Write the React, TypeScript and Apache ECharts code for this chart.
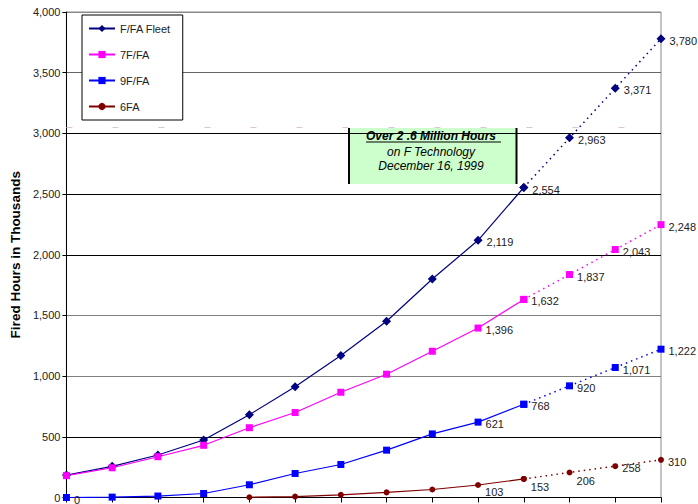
import React, { useEffect, useRef } from "react";
import * as echarts from "echarts";

const categories = ["1", "2", "3", "4", "5", "6", "7", "8", "9", "10", "11", "12", "13", "14"];
const fleet = [185, 257, 350, 474, 682, 913, 1170, 1452, 1800, 2119, 2554, 2963, 3371, 3780];
const f7 = [180, 245, 336, 430, 575, 700, 867, 1016, 1205, 1396, 1632, 1837, 2043, 2248];
const f9 = [0, 3, 12, 33, 105, 198, 272, 390, 524, 621, 768, 920, 1071, 1222];
const fa6: (number | null)[] = [null, null, null, null, 2, 8, 22, 42, 66, 103, 153, 206, 258, 310];
const yTicks = { min: 0, max: 4000, interval: 500 };
const splitIndex = 10; // solid up to this index, dotted afterwards
const labelFrom = 9;

const FONT = "Liberation Sans, Arial, sans-serif";

type SeriesDef = {
  name: string;
  values: (number | null)[];
  color: string;
  symbol: string;
  symbolSize: number;
  zeroLabel?: boolean;
  labelOffsets?: Record<number, [number, number]>;
};

const defs: SeriesDef[] = [
  { name: "F/FA Fleet", values: fleet, color: "#000080", symbol: "diamond", symbolSize: 9 },
  { name: "7F/FA", values: f7, color: "#ff00ff", symbol: "rect", symbolSize: 7 },
  { name: "9F/FA", values: f9, color: "#0000ff", symbol: "rect", symbolSize: 7, zeroLabel: true },
  {
    name: "6FA",
    values: fa6,
    color: "#800000",
    symbol: "circle",
    symbolSize: 6,
    labelOffsets: { 9: [0, 7], 10: [0, 8], 11: [0, 9], 12: [0, 2] },
  },
];

function fmt(v: number) {
  return v.toLocaleString("en-US");
}

export default function App() {
  const ref = useRef<HTMLDivElement>(null);

  useEffect(() => {
    if (!ref.current) return;
    const chart = echarts.init(ref.current, undefined, { renderer: "svg" });

    const series: any[] = [];
    defs.forEach((d) => {
      const mkItem = (v: number | null, i: number, part: "solid" | "dot") => {
        if (v === null) return null;
        const inSolid = i <= splitIndex;
        const inDot = i >= splitIndex;
        if (part === "solid" && !inSolid) return null;
        if (part === "dot" && !inDot) return null;
        let show = false;
        if (part === "solid" && (i >= labelFrom || (d.zeroLabel && i === 0))) show = true;
        if (part === "dot" && i > splitIndex) show = true;
        const off = (d.labelOffsets && d.labelOffsets[i]) || [0, 2];
        return {
          value: v,
          label: {
            show,
            position: "right",
            distance: 4,
            offset: off,
            color: "#222",
            fontSize: 11,
            fontFamily: FONT,
            formatter: (p: any) => fmt(p.value),
          },
        };
      };
      const common = {
        type: "line",
        symbol: d.symbol,
        symbolSize: d.symbolSize,
        showAllSymbol: true,
        itemStyle: { color: d.color },
        connectNulls: false,
        z: 3,
      };
      series.push({
        ...common,
        name: d.name,
        data: d.values.map((v, i) => mkItem(v, i, "solid")),
        lineStyle: { color: d.color, width: 1.2, type: "solid" },
      });
      series.push({
        ...common,
        name: d.name + " projected",
        data: d.values.map((v, i) => mkItem(v, i, "dot")),
        lineStyle: { color: d.color, width: 1.5, type: [1.5, 4] },
      });
    });

    // faint dashed line near 3,050
    series[0].markLine = {
      silent: true,
      symbol: "none",
      label: { show: false },
      lineStyle: { color: "#dcc4dc", type: [6, 40], width: 1 },
      data: [{ yAxis: 3050 }],
    };

    const gridColors = ["#000", "#000", "#808080", "#808080", "#000", "#000", "#000", "#666", "#888"];

    chart.setOption({
      animation: false,
      backgroundColor: "#fff",
      textStyle: { fontFamily: FONT },
      grid: {
        left: 65,
        right: 37,
        top: 12,
        bottom: 6.5,
        show: true,
        borderColor: "#888",
        borderWidth: 1,
        containLabel: false,
      },
      legend: {
        data: defs.map((d) => d.name),
        orient: "vertical",
        left: 82,
        top: 15,
        padding: [8, 12, 8, 6],
        itemWidth: 26,
        itemHeight: 9,
        itemGap: 15,
        backgroundColor: "#fff",
        borderColor: "#000",
        borderWidth: 1,
        borderRadius: 0,
        textStyle: { fontSize: 11, color: "#222", fontFamily: FONT },
      },
      xAxis: {
        type: "category",
        data: categories,
        boundaryGap: false,
        axisLine: { lineStyle: { color: "#000", width: 1 } },
        axisTick: { show: true, length: 5, lineStyle: { color: "#000" } },
        axisLabel: { show: false },
        splitLine: { show: false },
      },
      yAxis: {
        type: "value",
        min: yTicks.min,
        max: yTicks.max,
        interval: yTicks.interval,
        name: "Fired Hours in Thousands",
        nameLocation: "middle",
        nameGap: 39,
        nameTextStyle: { fontSize: 13.5, fontWeight: "bold", color: "#000", fontFamily: FONT },
        axisLine: { show: true, lineStyle: { color: "#000", width: 1 } },
        axisTick: { show: true, length: 4, lineStyle: { color: "#000" } },
        axisLabel: {
          fontSize: 11,
          color: "#222",
          margin: 6,
          fontFamily: FONT,
          formatter: (v: number) => fmt(v),
        },
        splitLine: { show: true, lineStyle: { color: gridColors, width: 1 } },
      },
      graphic: [
        {
          type: "group",
          z: 10,
          children: [
            { type: "rect", shape: { x: 348, y: 128, width: 169, height: 56 }, style: { fill: "#ccffcc" } },
            { type: "line", shape: { x1: 349, y1: 128, x2: 349, y2: 184 }, style: { stroke: "#000", lineWidth: 2 } },
            { type: "line", shape: { x1: 516.5, y1: 128, x2: 516.5, y2: 184 }, style: { stroke: "#000", lineWidth: 2 } },
            {
              type: "text",
              x: 431,
              y: 136,
              style: {
                text: "Over 2 .6 Million Hours",
                font: `italic bold 12px ${FONT}`,
                fill: "#000",
                align: "center",
                verticalAlign: "middle",
              },
            },
            { type: "line", shape: { x1: 366, y1: 142, x2: 501, y2: 142 }, style: { stroke: "#000", lineWidth: 1 } },
            {
              type: "text",
              x: 431,
              y: 151.5,
              style: {
                text: "on F Technology",
                font: `italic 12px ${FONT}`,
                fill: "#000",
                align: "center",
                verticalAlign: "middle",
              },
            },
            {
              type: "text",
              x: 431,
              y: 166,
              style: {
                text: "December 16, 1999",
                font: `italic 12px ${FONT}`,
                fill: "#000",
                align: "center",
                verticalAlign: "middle",
              },
            },
          ],
        },
      ],
      series,
    });

    return () => chart.dispose();
  }, []);

  return (
    <div
      ref={ref}
      style={{ position: "fixed", left: 0, top: 0, width: 698, height: 504, background: "#fff" }}
    />
  );
}
